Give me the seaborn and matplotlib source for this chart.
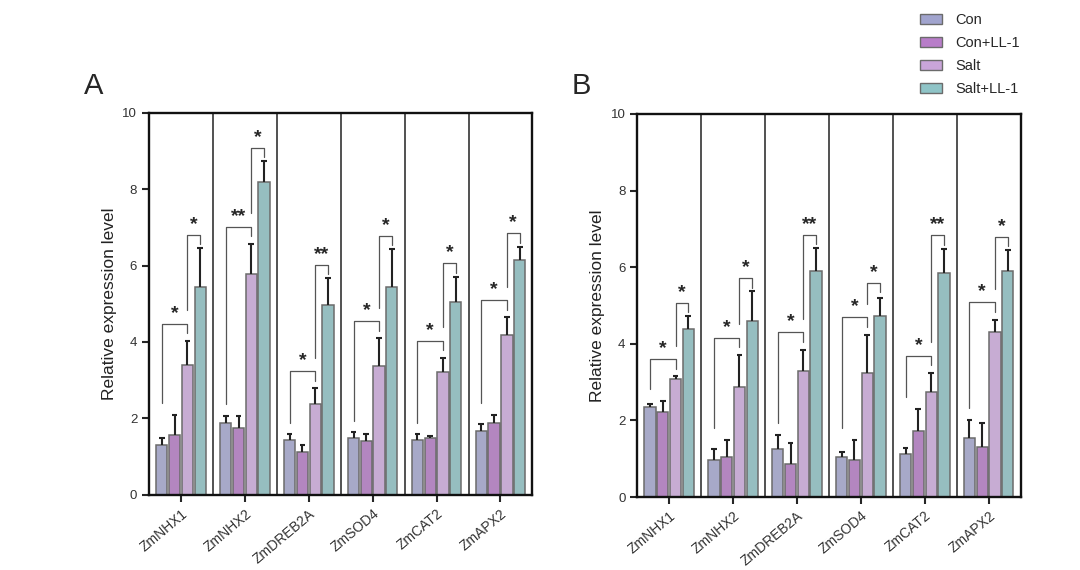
import numpy as np
import pandas as pd
import matplotlib
matplotlib.use('Agg')
import matplotlib.pyplot as plt
import seaborn as sns
from matplotlib.patches import Patch

genes = ['ZmNHX1', 'ZmNHX2', 'ZmDREB2A', 'ZmSOD4', 'ZmCAT2', 'ZmAPX2']
treatments = ['Con', 'Con+LL-1', 'Salt', 'Salt+LL-1']

# panel A (mean, sd)
a_con = [1.31, 1.89, 1.44, 1.48, 1.44, 1.68]
a_con_sd = [0.17, 0.18, 0.15, 0.16, 0.14, 0.18]
a_conll = [1.57, 1.74, 1.12, 1.42, 1.48, 1.87]
a_conll_sd = [0.52, 0.33, 0.19, 0.18, 0.07, 0.22]
a_salt = [3.39, 5.78, 2.38, 3.36, 3.21, 4.19]
a_salt_sd = [0.64, 0.79, 0.41, 0.74, 0.37, 0.46]
a_saltll = [5.43, 8.20, 4.97, 5.45, 5.05, 6.15]
a_saltll_sd = [1.03, 0.54, 0.70, 0.98, 0.66, 0.35]
a_sig1 = ['*', '**', '*', '*', '*', '*']
a_sig2 = ['*', '*', '**', '*', '*', '*']

# panel B (mean, sd)
b_con = [2.36, 0.97, 1.26, 1.04, 1.13, 1.53]
b_con_sd = [0.07, 0.29, 0.37, 0.13, 0.15, 0.49]
b_conll = [2.22, 1.04, 0.87, 0.98, 1.73, 1.30]
b_conll_sd = [0.29, 0.46, 0.55, 0.52, 0.57, 0.63]
b_salt = [3.08, 2.88, 3.30, 3.24, 2.74, 4.32]
b_salt_sd = [0.07, 0.83, 0.55, 1.00, 0.50, 0.31]
b_saltll = [4.38, 4.59, 5.91, 4.73, 5.85, 5.89]
b_saltll_sd = [0.34, 0.78, 0.59, 0.46, 0.63, 0.56]
b_sig1 = ['*', '*', '*', '*', '*', '*']
b_sig2 = ['*', '*', '**', '*', '**', '*']

colors = ['#A1A4CE', '#B87DC9', '#C9A5D9', '#8FC4C7']

sns.set_style('ticks')
plt.rcParams['font.family'] = ['Liberation Sans', 'DejaVu Sans']


def make_df(means, sds):
    rows = []
    for t, m, s in zip(treatments, means, sds):
        for g, mv, sv in zip(genes, m, s):
            rows.append({'gene': g, 'treatment': t, 'value': mv, 'sd': sv})
    return pd.DataFrame(rows)


def draw_panel(ax, df, sig1, sig2):
    sns.barplot(data=df, x='gene', y='value', hue='treatment', order=genes,
                hue_order=treatments, palette=colors, width=0.8,
                edgecolor='#6b6b6b', linewidth=1.1, errorbar=None,
                legend=False, ax=ax)
    tops = {}
    for t, cont in zip(treatments, ax.containers):
        sub = df[df['treatment'] == t].set_index('gene').loc[genes]
        xs = np.array([b.get_x() + b.get_width() / 2 for b in cont])
        # leave a thin white gap between neighbouring bars
        for b in cont:
            w = b.get_width()
            b.set_x(b.get_x() + w * 0.06)
            b.set_width(w * 0.88)
        top = (sub['value'] + sub['sd']).values
        # one-sided error bars: stem from bar top, cap at mean + sd
        ax.vlines(xs, sub['value'], top, color='#222222', lw=1.5, zorder=3)
        ax.hlines(top, xs - 0.045, xs + 0.045, color='#222222', lw=1.5,
                  zorder=3)
        tops[t] = (xs, top)

    for i in range(len(genes)):
        x_con = tops['Con'][0][i]
        x_salt = tops['Salt'][0][i]
        x_sll = tops['Salt+LL-1'][0][i]
        con_top = max(tops['Con'][1][i], tops['Con+LL-1'][1][i])
        salt_top = tops['Salt'][1][i]
        sll_top = tops['Salt+LL-1'][1][i]
        h1 = salt_top + 0.45
        h2 = max(sll_top + 0.35, h1 + 0.9)
        lc = '#555555'
        ax.plot([x_con, x_con, x_salt, x_salt],
                [con_top + 0.3, h1, h1, h1 - 0.25], color=lc, lw=0.9)
        ax.plot([x_salt, x_salt, x_sll, x_sll],
                [h1 + 0.35, h2, h2, h2 - 0.25], color=lc, lw=0.9)
        ax.text((x_con + x_salt) / 2, h1 + 0.05, sig1[i], ha='center',
                va='bottom', fontsize=14, fontweight='bold')
        ax.text((x_salt + x_sll) / 2, h2 + 0.05, sig2[i], ha='center',
                va='bottom', fontsize=14, fontweight='bold')

    for i in range(len(genes) - 1):
        ax.axvline(i + 0.5, color='#222222', lw=1.1)

    ax.set_xlim(-0.5, len(genes) - 0.5)
    ax.set_ylim(0, 10)
    ax.set_yticks([0, 2, 4, 6, 8, 10])
    ax.set_xlabel('')
    ax.set_ylabel('Relative expression level', fontsize=12.5,
                  color='#222222')
    ax.tick_params(axis='y', labelsize=9.5, width=1.5, length=5,
                   labelcolor='#333333')
    ax.tick_params(axis='x', labelsize=10, width=1.5, length=5,
                   labelcolor='#333333')
    plt.setp(ax.get_xticklabels(), rotation=40, ha='right',
             rotation_mode='anchor')
    for s in ax.spines.values():
        s.set_visible(True)
        s.set_linewidth(1.7)
        s.set_color('#111111')


fig = plt.figure(figsize=(10.8, 5.7), dpi=100)
ax_a = fig.add_axes([0.138, 0.132, 0.355, 0.670])
ax_b = fig.add_axes([0.590, 0.128, 0.355, 0.672])

draw_panel(ax_a, make_df([a_con, a_conll, a_salt, a_saltll],
                         [a_con_sd, a_conll_sd, a_salt_sd, a_saltll_sd]),
           a_sig1, a_sig2)
draw_panel(ax_b, make_df([b_con, b_conll, b_salt, b_saltll],
                         [b_con_sd, b_conll_sd, b_salt_sd, b_saltll_sd]),
           b_sig1, b_sig2)

fig.text(0.078, 0.835, 'A', fontsize=21)
fig.text(0.529, 0.835, 'B', fontsize=21)

handles = [Patch(facecolor=c, edgecolor='#6b6b6b', linewidth=1.0)
           for c in colors]
fig.legend(handles, treatments, loc='upper left',
           bbox_to_anchor=(0.840, 1.0), frameon=False, fontsize=10.5,
           handlelength=1.5, handleheight=0.7, labelspacing=0.62,
           handletextpad=0.9)

fig.savefig('out.png', dpi=100, facecolor='white')
